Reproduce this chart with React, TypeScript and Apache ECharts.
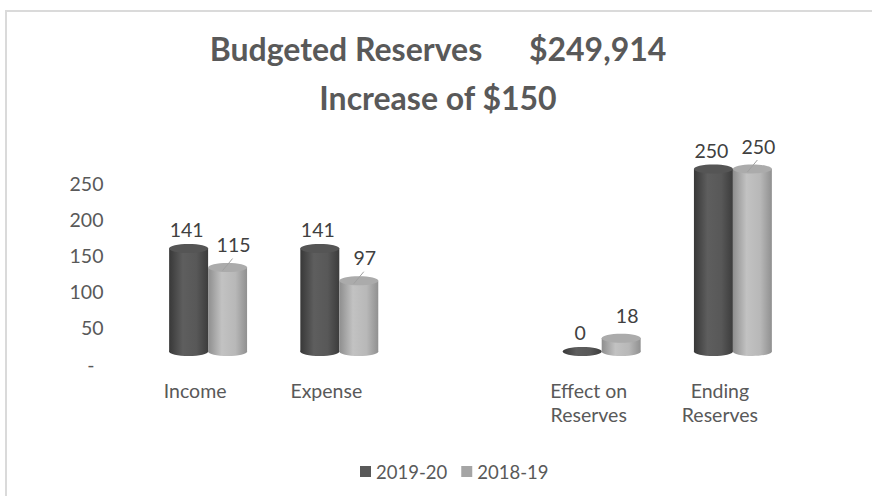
import React, { useEffect, useRef } from 'react';
import * as echarts from 'echarts';

const categories = ['Income', 'Expense', '', 'Effect on\nReserves', 'Ending\nReserves'];
const values2019 = [141, 141, null, 0, 250];
const values2018 = [115, 97, null, 18, 250];
const seriesNames = ['2019-20', '2018-19'];
const yTicks = [0, 50, 100, 150, 200, 250];
const titleLine1 = 'Budgeted Reserves      $249,914';
const titleLine2 = 'Increase of $150';

const FONT = 'Lato, "Noto Sans", sans-serif';
const LABEL_SIZE = 19.5;

type Pal = { stops: string[]; top: string; dx: number; dy: number; leader: boolean };

const darkPal: Pal = { stops: ['#383838', '#5e5e5e', '#585858', '#3c3c3c'], top: '#555555', dx: -2, dy: 19, leader: false };
const lightPal: Pal = { stops: ['#8e8e8e', '#c2c2c2', '#b8b8b8', '#909090'], top: '#ababab', dx: 6, dy: 23, leader: true };

const toData = (arr: (number | null)[]) =>
  arr.map((v, i) => (v === null ? null : [i, v])).filter((d) => d !== null);

const makeRender = (side: number, pal: Pal) => (params: any, api: any) => {
  const c = api.value(0);
  const v = api.value(1);
  const top = api.coord([c, v]);
  const base = api.coord([c, 0]);
  const band = api.size([1, 0])[0];
  const w = band * 0.297;
  const rx = w / 2;
  const ry = 4.5;
  const cx = top[0] + (side * w) / 2;
  const grad = new echarts.graphic.LinearGradient(0, 0, 1, 0, [
    { offset: 0, color: pal.stops[0] },
    { offset: 0.35, color: pal.stops[1] },
    { offset: 0.7, color: pal.stops[2] },
    { offset: 1, color: pal.stops[3] },
  ]);
  const children: any[] = [];
  children.push({ type: 'ellipse', shape: { cx, cy: base[1], rx, ry }, style: { fill: grad } });
  const h = base[1] - top[1];
  if (h > 0.5) {
    children.push({ type: 'rect', shape: { x: cx - rx, y: top[1], width: w, height: h }, style: { fill: grad } });
    children.push({ type: 'ellipse', shape: { cx, cy: top[1], rx, ry }, style: { fill: pal.top } });
  }
  if (pal.leader && v > 50) {
    children.push({
      type: 'line',
      shape: { x1: cx + 5, y1: top[1] - 9, x2: cx - 5, y2: top[1] + 3 },
      style: { stroke: '#a0a0a0', lineWidth: 1 },
    });
  }
  children.push({
    type: 'text',
    x: cx + pal.dx,
    y: top[1] - pal.dy,
    style: {
      text: String(v),
      fill: '#404040',
      fontSize: LABEL_SIZE,
      fontFamily: FONT,
      align: 'center',
      verticalAlign: 'middle',
    },
  });
  return { type: 'group', children };
};

export default function App() {
  const ref = useRef<HTMLDivElement>(null);
  useEffect(() => {
    if (!ref.current) return;
    const chart = echarts.init(ref.current, undefined, { renderer: 'svg' });
    chart.setOption({
      animation: false,
      backgroundColor: '#ffffff',
      textStyle: { fontFamily: FONT },
      graphic: [
        {
          type: 'rect',
          shape: { x: 6, y: 11, width: 900, height: 520 },
          style: { fill: 'none', stroke: '#dadada', lineWidth: 2 },
          silent: true,
        },
        {
          type: 'text',
          x: 438,
          y: 48.5,
          style: { text: titleLine1, fill: '#595959', fontSize: 32, fontWeight: 'bold', fontFamily: FONT, align: 'center', verticalAlign: 'middle' },
        },
        {
          type: 'text',
          x: 438,
          y: 97.5,
          style: { text: titleLine2, fill: '#595959', fontSize: 32, fontWeight: 'bold', fontFamily: FONT, align: 'center', verticalAlign: 'middle' },
        },
      ],
      legend: {
        data: seriesNames,
        left: 355,
        top: 457,
        icon: 'rect',
        itemWidth: 11,
        itemHeight: 11,
        itemGap: 14,
        textStyle: { color: '#595959', fontSize: 18.5, fontFamily: FONT },
      },
      grid: [
        { left: 129.5, width: 656, top: 183, height: 181 },
        { left: 142.5, width: 656, top: 169, height: 182.5 },
      ],
      xAxis: [
        {
          type: 'category',
          gridIndex: 0,
          data: categories,
          axisLine: { show: false },
          axisTick: { show: false },
          axisLabel: { color: '#595959', fontSize: LABEL_SIZE, fontFamily: FONT, margin: 14, lineHeight: 24, interval: 0 },
        },
        {
          type: 'category',
          gridIndex: 1,
          data: categories,
          show: false,
        },
      ],
      yAxis: [
        {
          type: 'value',
          gridIndex: 0,
          min: yTicks[0],
          max: yTicks[yTicks.length - 1],
          interval: yTicks[1] - yTicks[0],
          axisLine: { show: false },
          axisTick: { show: false },
          splitLine: { show: false },
          axisLabel: {
            color: '#595959',
            fontSize: LABEL_SIZE,
            fontFamily: FONT,
            margin: 26,
            formatter: (v: number) => (v === 0 ? '{d|-}' : String(v)),
            rich: { d: { color: '#595959', fontSize: LABEL_SIZE, fontFamily: FONT, padding: [0, 9, 0, 0] } },
          },
        },
        {
          type: 'value',
          gridIndex: 1,
          min: yTicks[0],
          max: yTicks[yTicks.length - 1],
          show: false,
        },
      ],
      series: [
        {
          name: seriesNames[0],
          type: 'custom',
          xAxisIndex: 1,
          yAxisIndex: 1,
          itemStyle: { color: '#595959' },
          renderItem: makeRender(-1, darkPal),
          data: toData(values2019),
        },
        {
          name: seriesNames[1],
          type: 'custom',
          xAxisIndex: 1,
          yAxisIndex: 1,
          itemStyle: { color: '#a5a5a5' },
          renderItem: makeRender(1, lightPal),
          data: toData(values2018),
        },
      ],
    });
    return () => chart.dispose();
  }, []);
  return <div ref={ref} style={{ position: 'fixed', left: 0, top: 0, width: 872, height: 496 }} />;
}
